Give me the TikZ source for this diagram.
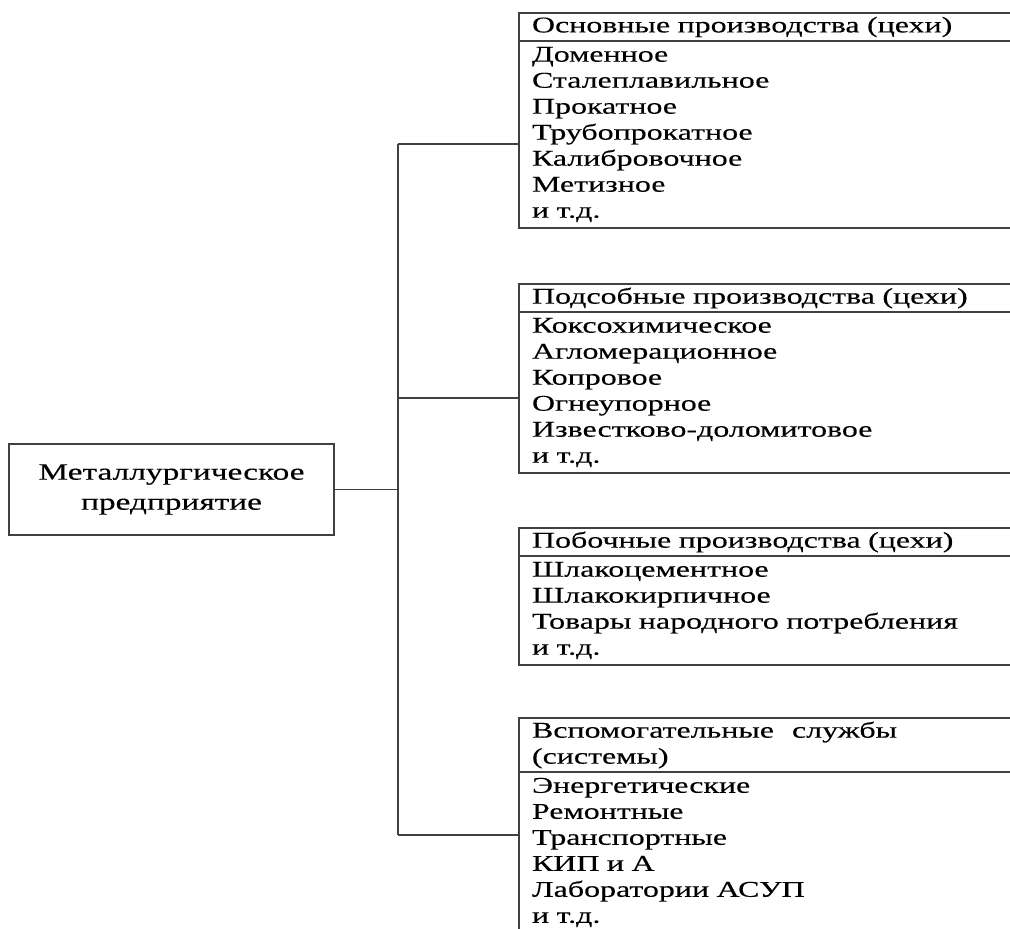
\documentclass[tikz,border=0pt]{standalone}
\usepackage{fontspec}
\setmainfont{Liberation Serif}[FakeStretch=1.42, FakeBold=0.3]
\usetikzlibrary{positioning}

\begin{document}
\begin{tikzpicture}[
    x=1pt,
    y=-1pt,
    line width=1.3pt,
    % Estilos de las cajas y de las líneas
    link/.style={draw=black!75},
    main box/.style={draw=black!75, outer sep=0pt, minimum width=325pt, minimum height=91pt, align=center, font=\fontsize{23.5}{30}\selectfont},
    box head/.style={draw=black!75, outer sep=0pt, text width=514pt, inner xsep=13pt, inner ysep=0pt, minimum height=28pt, align=left, font=\fontsize{22.5}{26}\selectfont},
    box body/.style={draw=black!75, outer sep=0pt, text width=514pt, inner xsep=13pt, inner ysep=2pt, align=left, font=\fontsize{22.5}{26}\selectfont}
]
    % --- 0. MARCO (la figura queda recortada a la derecha y abajo) ---
    \useasboundingbox (0,0) rectangle (1010,929);
    \clip (0,0) rectangle (1010,929);

    % --- 1. EMPRESA ---
    \node[main box] (plant) at (171.5,489.5) {Металлургическое\\предприятие};

    % --- 2. CAJAS DE LA DERECHA ---
    \node[box head, anchor=north west] (main head) at (519,13) {Основные производства (цехи)};
    \node[box body, below=0pt of main head, minimum height=187pt] (main body) {Доменное\\Сталеплавильное\\Прокатное\\Трубопрокатное\\Калибровочное\\Метизное\\и т.д.};

    \node[box head, anchor=north west] (aux head) at (519,284) {Подсобные производства (цехи)};
    \node[box body, below=0pt of aux head, minimum height=161pt] (aux body) {Коксохимическое\\Агломерационное\\Копровое\\Огнеупорное\\Известково-доломитовое\\и т.д.};

    \node[box head, anchor=north west] (side head) at (519,528) {Побочные производства (цехи)};
    \node[box body, below=0pt of side head, minimum height=109pt] (side body) {Шлакоцементное\\Шлакокирпичное\\Товары народного потребления\\и т.д.};

    \node[box head, anchor=north west, minimum height=54pt] (serv head) at (519,718) {Вспомогательные\hspace{0.8em}службы\\(системы)};
    \node[box body, below=0pt of serv head, minimum height=161pt] (serv body) {Энергетические\\Ремонтные\\Транспортные\\КИП и А\\Лаборатории АСУП\\и т.д.};

    % --- 3. CONEXIONES ---
    \coordinate (trunk top) at (398,144);
    \coordinate (trunk aux) at (398,398);
    \coordinate (trunk bottom) at (398,835);
    \draw[link] (trunk top) -- (trunk bottom);
    \draw[link] (plant.east) -- (plant.east -| trunk top);
    \draw[link] (trunk top) -- (trunk top -| main body.west);
    \draw[link] (trunk aux) -- (trunk aux -| aux body.west);
    \draw[link] (trunk bottom) -- (trunk bottom -| serv body.west);

\end{tikzpicture}
\end{document}
